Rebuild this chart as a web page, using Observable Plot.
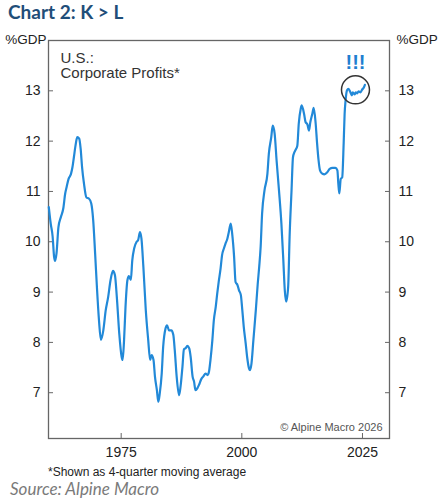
<!DOCTYPE html>
<html>
<head>
<meta charset="utf-8">
<script src="https://cdn.jsdelivr.net/npm/d3@7"></script>
<script src="https://cdn.jsdelivr.net/npm/@observablehq/plot@0.6"></script>
<style>
  html, body { margin: 0; padding: 0; background: #fff; }
  #wrap { position: relative; width: 438px; height: 500px; overflow: hidden; }
  #title { position: absolute; left: 8px; top: 1px; font: bold 19px Lato, "Open Sans", sans-serif; color: #1f4e79; line-height: 22px; white-space: nowrap; }
  #chart { position: absolute; left: 0; top: 26px; }
  #note { position: absolute; left: 48px; top: 465px; font: 12px "Liberation Sans", Arial, sans-serif; color: #222; line-height: 14px; white-space: nowrap; }
  #source { position: absolute; left: 10px; top: 479px; font: italic 17px Lato, "Open Sans", sans-serif; color: #7a7a7a; line-height: 19px; white-space: nowrap; }
</style>
</head>
<body>
<div id="wrap">
  <div id="title">Chart 2: K &gt; L</div>
  <div id="chart"></div>
  <div id="note">*Shown as 4-quarter moving average</div>
  <div id="source">Source: Alpine Macro</div>
</div>
<script>
// Corporate profits, % of GDP (4-quarter moving average)
const years = [
  1960.0,1960.4,1960.8,1961.1,1961.3,1961.6,1962.0,1962.5,1963.0,1963.4,1963.7,1964.1,1964.6,1964.9,1965.2,1965.6,1965.9,
  1966.3,1966.6,1966.9,1967.3,1967.8,1968.3,1968.8,1969.2,1969.6,1970.0,1970.4,1970.8,1971.3,1971.8,1972.3,1972.8,1973.3,
  1973.7,1974.1,1974.6,1975.1,1975.3,1975.6,1975.9,1976.3,1976.6,1977.0,1977.3,1977.7,1978.2,1978.5,1978.9,1979.2,1979.6,
  1980.1,1980.6,1981.0,1981.3,1981.7,1982.0,1982.4,1982.7,1983.0,1983.4,1983.7,1984.2,1984.5,1984.9,1985.4,1985.8,1986.1,
  1986.5,1987.0,1987.3,1987.7,1988.0,1988.4,1988.7,1989.1,1989.4,1989.8,1990.1,1990.4,1990.8,1991.1,1991.6,1992.0,1992.5,
  1992.9,1993.2,1993.5,1993.9,1994.2,1994.6,1994.9,1995.2,1995.6,1995.9,1996.3,1996.6,1997.0,1997.3,1997.7,1998.0,1998.4,
  1998.7,1999.1,1999.4,1999.8,2000.1,2000.4,2000.8,2001.1,2001.5,2001.7,2002.0,2002.4,2002.9,2003.3,2003.6,2003.9,2004.2,
  2004.7,2005.3,2005.6,2006.1,2006.4,2006.8,2007.2,2007.7,2008.2,2008.6,2008.9,2009.2,2009.6,2009.9,2010.3,2010.6,2010.9,
  2011.1,2011.5,2011.8,2012.2,2012.4,2012.9,2013.2,2013.6,2013.9,2014.2,2014.6,2014.9,2015.3,2015.6,2015.9,2016.2,2016.7,
  2017.1,2017.7,2018.2,2018.8,2019.4,2019.8,2020.0,2020.2,2020.5,2020.8,2021.1,2021.3,2021.5,2021.8,2022.1,2022.5,2022.8,
  2023.0,2023.4,2023.6,2023.9,2024.2,2024.6,2024.9,2025.3,2025.5
];
const profits = [
  10.69,10.36,10.10,9.70,9.62,9.77,10.29,10.49,10.66,10.96,11.09,11.25,11.35,11.48,11.68,11.95,12.08,
  12.05,11.85,11.48,11.15,10.88,10.86,10.76,10.43,9.77,9.05,8.44,8.05,8.24,8.64,8.90,9.24,9.42,
  9.34,8.90,8.18,7.71,7.65,8.05,8.71,9.24,9.32,9.24,9.63,9.87,10.00,10.03,10.19,10.06,9.50,
  8.64,8.05,7.65,7.75,7.65,7.32,7.05,6.82,6.99,7.38,7.91,8.28,8.34,8.24,8.24,8.15,7.85,
  7.32,6.95,7.12,7.52,7.86,7.89,7.93,7.88,7.71,7.32,7.22,7.05,7.09,7.15,7.27,7.32,7.38,
  7.35,7.42,7.65,8.05,8.44,8.71,8.97,9.20,9.47,9.73,9.87,9.96,10.06,10.19,10.36,10.16,9.70,
  9.20,9.14,9.04,8.94,8.64,8.31,7.98,7.71,7.48,7.45,7.58,8.05,8.64,9.17,9.50,9.90,10.56,
  11.02,11.35,11.75,12.08,12.31,12.15,11.62,11.02,10.36,9.63,9.04,8.81,9.10,10.10,11.02,11.68,11.78,
  11.82,11.91,12.35,12.64,12.71,12.54,12.38,12.33,12.21,12.38,12.54,12.66,12.35,11.95,11.62,11.42,11.35,
  11.34,11.38,11.45,11.47,11.47,11.42,11.15,10.96,11.25,11.28,11.95,12.54,12.81,13.01,13.04,12.97,12.91,
  12.97,12.93,12.97,12.95,12.99,12.97,13.02,13.07,13.12
];
const yTicks = [7, 8, 9, 10, 11, 12, 13];
const xTicks = [1975, 2000, 2025];
const unitLabel = "%GDP";
const seriesLabel = "U.S.:\nCorporate Profits*";
const copyright = "\u00A9 Alpine Macro 2026";
const highlightYear = [2023.55];
const highlightValue = [13.02];
const highlightText = "!!!";

const data = years.map((y, i) => ({year: y, value: profits[i]}));
const circle = highlightYear.map((y, i) => ({year: y, value: highlightValue[i]}));

const blue = "#2289d8";
const axisColor = "#666";

const chart = Plot.plot({
  width: 438,
  height: 440,
  marginTop: 14,
  marginBottom: 28,
  marginLeft: 48,
  marginRight: 49,
  style: {fontFamily: "'Liberation Sans', Arial, sans-serif", fontSize: "14px", color: "#222", background: "#fff"},
  x: {domain: [1959.94, 2030.6]},
  y: {domain: [6.09, 14.0]},
  marks: [
    Plot.frame({stroke: axisColor, strokeWidth: 1.3}),
    Plot.axisY(yTicks, {anchor: "left", tickSize: 5, dx: 5, tickPadding: 8, label: null, tickFormat: d => String(d), fontSize: 14, stroke: axisColor}),
    Plot.axisY(yTicks, {anchor: "right", tickSize: 5, dx: -5, tickPadding: 9, label: null, tickFormat: d => String(d), fontSize: 14, stroke: axisColor}),
    Plot.axisX(xTicks, {anchor: "bottom", tickSize: 5, dy: -5, tickPadding: 9, label: null, tickFormat: d => String(d), fontSize: 14, stroke: axisColor}),
    Plot.text([unitLabel], {frameAnchor: "top-left", textAnchor: "end", lineAnchor: "middle", dx: -2, dy: -1, fontSize: 13.5, fill: "#222"}),
    Plot.text([unitLabel], {frameAnchor: "top-right", textAnchor: "start", lineAnchor: "middle", dx: 7, dy: -1, fontSize: 13.5, fill: "#222"}),
    Plot.text([seriesLabel], {frameAnchor: "top-left", textAnchor: "start", lineAnchor: "top", dx: 12, dy: 11, fontSize: 15, lineHeight: 1.05, fill: "#333"}),
    Plot.text([copyright], {frameAnchor: "bottom-right", textAnchor: "end", lineAnchor: "bottom", dx: -7, dy: -8, fontSize: 11, fill: "#555"}),
    Plot.line(data, {x: "year", y: "value", stroke: blue, strokeWidth: 2.2, curve: "monotone-x"}),
    Plot.dot(circle, {x: "year", y: "value", r: 14, stroke: "#333", strokeWidth: 1.5, fill: "none"}),
    Plot.text(circle, {x: "year", y: "value", text: () => highlightText, dy: -27, fontSize: 20, fontWeight: "bold", fill: "#1f7fd0", lineAnchor: "middle"})
  ]
});
document.getElementById("chart").appendChild(chart);
</script>
</body>
</html>
